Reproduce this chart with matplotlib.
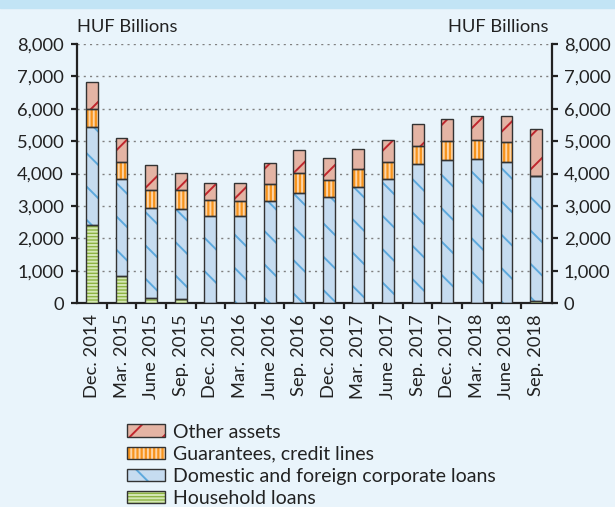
import matplotlib
matplotlib.use("Agg")
import matplotlib.pyplot as plt
import numpy as np
from matplotlib.patches import Patch

categories = ["Dec. 2014", "Mar. 2015", "June 2015", "Sep. 2015", "Dec. 2015",
              "Mar. 2016", "June 2016", "Sep. 2016", "Dec. 2016", "Mar. 2017",
              "June 2017", "Sep. 2017", "Dec. 2017", "Mar. 2018", "June 2018",
              "Sep. 2018"]
household = [2400, 830, 150, 110, 0, 0, 0, 0, 0, 0, 0, 0, 0, 0, 0, 60]
corporate = [3040, 3010, 2790, 2800, 2700, 2700, 3160, 3410, 3260, 3590,
             3840, 4300, 4410, 4450, 4370, 3850]
guarantees = [550, 500, 540, 570, 490, 460, 530, 610, 550, 540, 530, 550,
              580, 580, 590, 0]
other = [830, 750, 790, 540, 510, 540, 620, 720, 680, 640, 670, 680, 680,
         750, 820, 1470]
yticks = [0, 1000, 2000, 3000, 4000, 5000, 6000, 7000, 8000]
ylabel_text = "HUF Billions"

plt.rcParams['font.family'] = ['Lato', 'DejaVu Sans']
plt.rcParams['hatch.linewidth'] = 1.4

FS = 13.2
LFS = 14.0
BG = "#E9F4FB"
BAND = "#C2E4F5"
EDGE = "#333333"
TXT = "#222222"

series = [
    ("Household loans", household, "#8DB443", "#D5E8B5", "-----"),
    ("Domestic and foreign corporate loans", corporate, "#C6DCF0", "#5DA9DD", "\\"),
    ("Guarantees, credit lines", guarantees, "#F7941D", "#FDD4A6", "||||"),
    ("Other assets", other, "#E4B4A4", "#C0262D", "/"),
]

fig = plt.figure(figsize=(6.15, 5.07), dpi=100, facecolor=BG)
fig.patches.append(plt.Rectangle((0, 1 - 8 / 507), 1, 8 / 507, transform=fig.transFigure,
                                 color=BAND, zorder=0))
ax = fig.add_axes([76.5 / 615, 1 - 303 / 507, (551.5 - 76.5) / 615, (303 - 44) / 507])
ax.set_facecolor(BG)

x = np.arange(len(categories))
w = 0.4
bottom = np.zeros(len(categories))
handles = []
for name, vals, fc, hc, hatch in series:
    vals = np.array(vals, dtype=float)
    ax.bar(x, vals, w, bottom=bottom, color=fc, edgecolor=hc, hatch=hatch,
           linewidth=0, zorder=3)
    ax.bar(x, vals, w, bottom=bottom, fill=False, edgecolor=EDGE,
           linewidth=1.0, zorder=4)
    bottom += vals
    handles.append((Patch(facecolor=fc, edgecolor=hc, hatch=hatch, linewidth=0),
                    Patch(fill=False, edgecolor=EDGE, linewidth=1.0)))

ax.set_xlim(-0.52, len(categories) - 1 + 0.52)
ax.set_ylim(0, 8000)
ax.set_yticks(yticks)
ax.set_yticklabels([f"{v:,}" for v in yticks])
ax.tick_params(axis='y', which='both', direction='out', length=4, width=1.6,
               labelsize=FS, pad=5, left=True, right=True,
               labelleft=True, labelright=True, colors=TXT)

ax.set_xticks(np.arange(len(categories) - 1) + 0.5)
ax.set_xticklabels([])
ax.tick_params(axis='x', which='major', direction='out', length=4, width=1.6,
               color=TXT)
ax.set_xticks(x, minor=True)
ax.set_xticklabels(categories, minor=True, rotation=90, fontsize=FS,
                   va='top', ha='center', color=TXT)
ax.tick_params(axis='x', which='minor', length=0, pad=8)

ax.yaxis.grid(True, linestyle=(0, (1.5, 3)), color='#808080', linewidth=1.0, zorder=0)
ax.set_axisbelow(True)
for s in ['left', 'right', 'bottom']:
    ax.spines[s].set_linewidth(1.6)
    ax.spines[s].set_color(TXT)
ax.spines['top'].set_visible(False)

fig.text(77 / 615, 1 - 31.5 / 507, ylabel_text, fontsize=FS, va='baseline', ha='left',
         color=TXT)
fig.text(549 / 615, 1 - 31.5 / 507, ylabel_text, fontsize=FS, va='baseline', ha='right',
         color=TXT)

labels = [s[0] for s in series]
leg = fig.legend(handles[::-1], labels[::-1], loc='upper left',
                 bbox_to_anchor=(127 / 615, 1 - 423.5 / 507), frameon=False,
                 fontsize=LFS, handlelength=1.95, handleheight=0.6,
                 labelspacing=0.26, handletextpad=0.4, borderpad=0,
                 borderaxespad=0, labelcolor=TXT)

fig.savefig("out.png", dpi=100, facecolor=BG)
